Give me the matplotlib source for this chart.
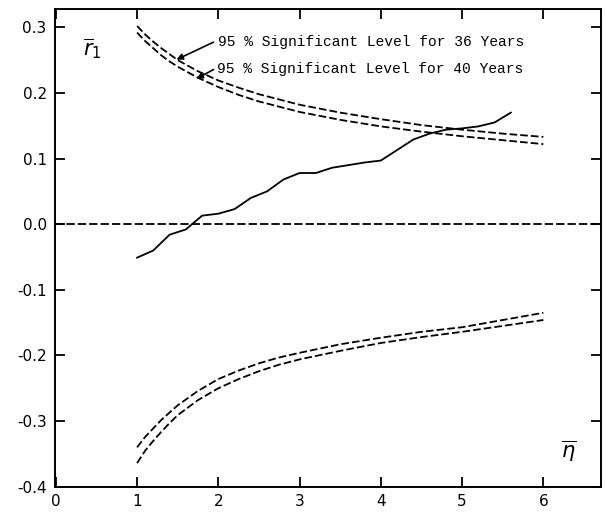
# Lag correlation r1 against eta, with 95% significance levels for 36 and 40 years

import numpy as np
import matplotlib.pyplot as plt

# mean lag correlation, sampled every 0.2 from eta = 1.0 to 5.6
eta = [1.0, 1.2, 1.4, 1.6, 1.8, 2.0, 2.2, 2.4, 2.6, 2.8, 3.0, 3.2,
       3.4, 3.6, 3.8, 4.0, 4.2, 4.4, 4.6, 4.8, 5.0, 5.2, 5.4, 5.6]
r1 = [-0.051, -0.040, -0.016, -0.008, 0.013, 0.016, 0.023, 0.040,
      0.050, 0.068, 0.078, 0.078, 0.086, 0.090, 0.094, 0.097,
      0.113, 0.129, 0.138, 0.144, 0.146, 0.149, 0.155, 0.170]

# significance levels
eta_sig = [1.0, 1.1, 1.2, 1.3, 1.4, 1.5, 1.75, 2.0, 2.25, 2.5, 2.75,
           3.0, 3.5, 4.0, 4.5, 5.0, 5.5, 6.0]
upper_36 = [0.302, 0.289, 0.278, 0.268, 0.259, 0.250, 0.233, 0.219, 0.208,
            0.198, 0.190, 0.182, 0.170, 0.160, 0.151, 0.144, 0.138, 0.133]
upper_40 = [0.292, 0.279, 0.268, 0.257, 0.248, 0.240, 0.223, 0.209, 0.197,
            0.187, 0.179, 0.171, 0.159, 0.149, 0.141, 0.134, 0.128, 0.122]
lower_36 = [-0.364, -0.345, -0.330, -0.316, -0.303, -0.291, -0.268, -0.250, -0.236,
            -0.224, -0.214, -0.206, -0.193, -0.181, -0.172, -0.164, -0.155, -0.146]
lower_40 = [-0.340, -0.324, -0.311, -0.298, -0.287, -0.276, -0.254, -0.236, -0.223,
            -0.212, -0.203, -0.196, -0.183, -0.173, -0.164, -0.157, -0.146, -0.135]

xticks = [0, 1, 2, 3, 4, 5, 6]
yticks = [-0.4, -0.3, -0.2, -0.1, 0.0, 0.1, 0.2, 0.3]
ytick_labels = ['-0.4', '-0.3', '-0.2', '-0.1', '0.0', '0.1', '0.2', '0.3']

plt.rcParams['lines.scale_dashes'] = False
dash = (0, (5.5, 2.2))

fig = plt.figure(figsize=(6.06, 5.12), dpi=100)
ax = fig.add_axes([0.0908, 0.0494, 0.901, 0.9324])

ax.axhline(0, color='black', lw=1.3, linestyle=(0, (6, 2.2)))
for curve in [upper_36, upper_40, lower_36, lower_40]:
    ax.plot(eta_sig, curve, color='black', lw=1.3, linestyle=dash)
ax.plot(eta, r1, color='black', lw=1.3)

ax.set_xlim(-0.01, 6.71)
ax.set_ylim(-0.4, 0.3274)
ax.set_xticks(xticks)
ax.set_xticklabels([str(t) for t in xticks])
ax.set_yticks(yticks)
ax.set_yticklabels(ytick_labels)
ax.tick_params(direction='in', length=7, width=1.3, labelsize=11,
               top=True, right=True, pad=6)
ax.tick_params(axis='x', pad=5)
for s in ax.spines.values():
    s.set_linewidth(1.4)

ax.text(0.33, 0.267, r'$\overline{r}_1$', fontsize=15, va='center')
ax.text(6.22, -0.346, r'$\overline{\eta}$', fontsize=15, va='center')

mono = 'Liberation Mono'
ax.text(1.998, 0.278, '95 % Significant Level for 36 Years',
        family=mono, fontsize=10.5, va='center')
ax.text(1.985, 0.2367, '95 % Significant Level for 40 Years',
        family=mono, fontsize=10.5, va='center')
ax.annotate('', xy=(1.485, 0.2508), xytext=(1.94, 0.2773),
            arrowprops=dict(arrowstyle='-|>', color='black', lw=1.2,
                            mutation_scale=9, shrinkA=0, shrinkB=0))
ax.annotate('', xy=(1.731, 0.2215), xytext=(1.94, 0.2356),
            arrowprops=dict(arrowstyle='-|>', color='black', lw=1.2,
                            mutation_scale=9, shrinkA=0, shrinkB=0))

plt.savefig('out.png', dpi=100)
